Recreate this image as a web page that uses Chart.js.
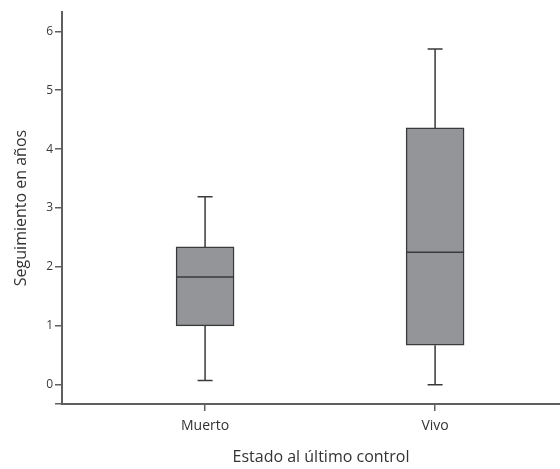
<!DOCTYPE html>
<html>
<head>
<meta charset="utf-8">
<script src="https://cdn.jsdelivr.net/npm/chart.js@4/dist/chart.umd.min.js"></script>
<style>
  html, body { margin: 0; padding: 0; background: #fff; overflow: hidden; }
  #wrap { width: 580px; height: 469px; }
</style>
</head>
<body>
<div id="wrap"><canvas id="boxChart" width="580" height="469"></canvas></div>
<script>
// datos del diagrama de cajas
const categorias = ['Muerto', 'Vivo'];
const minimo = [0.07, 0.0];
const q1 = [1.00, 0.67];
const mediana = [1.83, 2.25];
const q3 = [2.34, 4.36];
const maximo = [3.19, 5.70];
const yTicks = [0, 1, 2, 3, 4, 5, 6];

const Y_MIN = -0.327, Y_MAX = 6.327;
const X_MIN = 0.378, X_MAX = 2.63;

const lineaColor = '#3a3a3a';
const ejeColor = '#5f5f5f';
const fuente = "'Open Sans', 'Noto Sans', sans-serif";

// bigotes y mediana, dibujados con las escalas del gráfico
const bigotes = {
  id: 'bigotes',
  afterDatasetsDraw(chart) {
    const ctx = chart.ctx;
    const xs = chart.scales.x, ys = chart.scales.y;
    const meta = chart.getDatasetMeta(0);
    ctx.save();
    ctx.strokeStyle = lineaColor;
    ctx.lineWidth = 1.5;
    categorias.forEach((c, i) => {
      const cx = xs.getPixelForValue(i + 1);
      const half = meta.data[i].width / 2;
      const cap = 7.5;
      ctx.beginPath();
      // superior
      ctx.moveTo(cx, ys.getPixelForValue(q3[i]));
      ctx.lineTo(cx, ys.getPixelForValue(maximo[i]));
      ctx.moveTo(cx - cap, ys.getPixelForValue(maximo[i]));
      ctx.lineTo(cx + cap, ys.getPixelForValue(maximo[i]));
      // inferior
      ctx.moveTo(cx, ys.getPixelForValue(q1[i]));
      ctx.lineTo(cx, ys.getPixelForValue(minimo[i]));
      ctx.moveTo(cx - cap, ys.getPixelForValue(minimo[i]));
      ctx.lineTo(cx + cap, ys.getPixelForValue(minimo[i]));
      // mediana
      ctx.moveTo(cx - half, ys.getPixelForValue(mediana[i]));
      ctx.lineTo(cx + half, ys.getPixelForValue(mediana[i]));
      ctx.stroke();
    });
    ctx.restore();
  }
};

new Chart(document.getElementById('boxChart').getContext('2d'), {
  type: 'bar',
  data: {
    datasets: [{
      label: 'caja',
      data: categorias.map((c, i) => ({ x: i + 1, y: [q1[i], q3[i]] })),
      backgroundColor: '#939598',
      borderColor: lineaColor,
      borderWidth: 1.5,
      borderSkipped: false,
      barThickness: 58
    }]
  },
  options: {
    responsive: false,
    animation: false,
    layout: { padding: { top: 12, right: 0, left: 0, bottom: 0 } },
    plugins: { legend: { display: false }, tooltip: { enabled: false } },
    scales: {
      x: {
        type: 'linear',
        offset: false,
        min: X_MIN, max: X_MAX,
        afterFit: s => { s.height = 65; },
        afterBuildTicks: s => { s.ticks = categorias.map((c, i) => ({ value: i + 1 })); },
        border: { display: true, color: ejeColor, width: 2 },
        grid: { display: true, offset: false, drawOnChartArea: false, drawTicks: true, tickLength: 7, color: ejeColor, lineWidth: 1.5 },
        ticks: {
          callback: v => categorias[v - 1],
          font: { family: fuente, size: 14 },
          color: '#333',
          padding: 7,
          maxRotation: 0
        },
        title: {
          display: true,
          text: 'Estado al último control',
          font: { family: fuente, size: 16 },
          color: '#333',
          padding: { top: 0, bottom: 2 }
        }
      },
      y: {
        type: 'linear',
        min: Y_MIN, max: Y_MAX,
        afterFit: s => { s.width = 62; },
        afterBuildTicks: s => { s.ticks = [{ value: Y_MIN }].concat(yTicks.map(v => ({ value: v }))); },
        border: { display: true, color: ejeColor, width: 2 },
        grid: { display: true, drawOnChartArea: false, drawTicks: true, tickLength: 7, color: ejeColor, lineWidth: 1.5 },
        ticks: {
          callback: v => (v < 0 ? '' : String(v)),
          font: { family: fuente, size: 12 },
          color: '#3a3a3a',
          padding: 2
        },
        title: {
          display: true,
          text: 'Seguimiento en años',
          font: { family: fuente, size: 16 },
          color: '#333',
          padding: { top: 12, bottom: 0 }
        }
      }
    }
  },
  plugins: [bigotes]
});
</script>
</body>
</html>
